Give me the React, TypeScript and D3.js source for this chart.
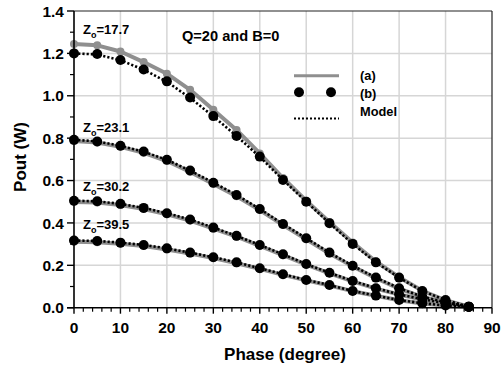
import React from "react";
import * as d3 from "d3";

const phase = [0, 5, 10, 15, 20, 25, 30, 35, 40, 45, 50, 55, 60, 65, 70, 75, 80, 85];

// (a) measured, gray line
const a17 = [1.244, 1.238, 1.209, 1.159, 1.104, 1.028, 0.934, 0.839, 0.728, 0.612, 0.505, 0.404, 0.308, 0.218, 0.144, 0.08, 0.035, 0.005];
const a23 = [0.786, 0.779, 0.759, 0.731, 0.692, 0.641, 0.584, 0.526, 0.461, 0.39, 0.323, 0.256, 0.195, 0.139, 0.09, 0.051, 0.024, 0.005];
const a30 = [0.499, 0.496, 0.485, 0.466, 0.441, 0.411, 0.373, 0.335, 0.292, 0.248, 0.203, 0.162, 0.124, 0.09, 0.062, 0.039, 0.02, 0.005];
const a39 = [0.311, 0.309, 0.302, 0.291, 0.275, 0.256, 0.234, 0.21, 0.183, 0.155, 0.129, 0.105, 0.078, 0.056, 0.035, 0.02, 0.01, 0.003];

// (b) measured, black dots
const b17 = [1.2, 1.197, 1.169, 1.124, 1.068, 0.992, 0.904, 0.81, 0.713, 0.603, 0.5, 0.399, 0.301, 0.214, 0.142, 0.079, 0.036, 0.005];
const b23 = [0.792, 0.784, 0.764, 0.737, 0.698, 0.647, 0.59, 0.532, 0.466, 0.395, 0.328, 0.26, 0.198, 0.142, 0.092, 0.052, 0.025, 0.005];
const b30 = [0.505, 0.502, 0.49, 0.471, 0.446, 0.416, 0.378, 0.339, 0.296, 0.252, 0.206, 0.165, 0.126, 0.092, 0.063, 0.04, 0.021, 0.005];
const b39 = [0.317, 0.315, 0.307, 0.296, 0.28, 0.26, 0.238, 0.214, 0.186, 0.158, 0.131, 0.107, 0.079, 0.057, 0.036, 0.021, 0.01, 0.003];

// Model, dotted line
const m17 = [1.2, 1.195, 1.168, 1.123, 1.066, 0.99, 0.903, 0.81, 0.712, 0.603, 0.5, 0.399, 0.301, 0.214, 0.142, 0.079, 0.036, 0.005];
const m23 = [0.792, 0.785, 0.764, 0.736, 0.698, 0.647, 0.59, 0.532, 0.466, 0.395, 0.328, 0.26, 0.198, 0.142, 0.092, 0.052, 0.025, 0.005];
const m30 = [0.505, 0.502, 0.49, 0.471, 0.446, 0.416, 0.378, 0.339, 0.296, 0.252, 0.206, 0.165, 0.126, 0.092, 0.063, 0.04, 0.021, 0.005];
const m39 = [0.317, 0.315, 0.307, 0.296, 0.28, 0.26, 0.238, 0.214, 0.186, 0.158, 0.131, 0.107, 0.079, 0.057, 0.036, 0.021, 0.01, 0.003];

const zLabels = ["17.7", "23.1", "30.2", "39.5"];
const zLabelValues = [1.29, 0.83, 0.55, 0.37];

const xTicks = [0, 10, 20, 30, 40, 50, 60, 70, 80, 90];
const yTicks = [0.0, 0.2, 0.4, 0.6, 0.8, 1.0, 1.2, 1.4];
const legendLabels = ["(a)", "(b)", "Model"];
const annotation = "Q=20 and B=0";
const xTitle = "Phase (degree)";
const yTitle = "Pout (W)";

const seriesA = [a17, a23, a30, a39];
const seriesB = [b17, b23, b30, b39];
const seriesM = [m17, m23, m30, m39];

const FONT = "'Liberation Sans', Arial, Helvetica, sans-serif";
const GRAY = "#8f8f8f";

export default function App() {
  const x = d3.scaleLinear().domain([0, 90]).range([74, 492]);
  const y = d3.scaleLinear().domain([0, 1.4]).range([307.7, 11]);

  const line = d3
    .line<[number, number]>()
    .x((d) => x(d[0]))
    .y((d) => y(d[1]));

  const pts = (vals: number[]) => phase.map((p, i) => [p, vals[i]] as [number, number]);

  const xMinor = d3.range(0, 91, 2).filter((v) => v % 10 !== 0);
  const yMinor = d3.range(0.1, 1.4, 0.2);

  return (
    <svg
      width={501}
      height={370}
      style={{ position: "absolute", left: 0, top: 0, background: "#fff" }}
      fontFamily={FONT}
    >
      <rect x={0} y={0} width={501} height={370} fill="#fff" />
      {/* grid */}
      {xTicks.slice(1, -1).map((t) => (
        <line key={"gx" + t} x1={x(t)} x2={x(t)} y1={y(0)} y2={y(1.4)} stroke="#d6d6d6" strokeWidth={1.5} />
      ))}
      {yTicks.slice(1, -1).map((t) => (
        <line key={"gy" + t} x1={x(0)} x2={x(90)} y1={y(t)} y2={y(t)} stroke="#d6d6d6" strokeWidth={1.5} />
      ))}
      {/* frame */}
      <line x1={x(0)} x2={x(90)} y1={y(1.4)} y2={y(1.4)} stroke="#222" strokeWidth={1.2} />
      <line x1={x(90)} x2={x(90)} y1={y(1.4)} y2={y(0)} stroke="#222" strokeWidth={1.2} />

      {/* series (a) gray */}
      {seriesA.map((s, k) => (
        <g key={"a" + k}>
          <path d={line(pts(s)) || ""} fill="none" stroke={GRAY} strokeWidth={4} strokeLinejoin="round" />
          {pts(s).map((d, i) => (
            <circle key={i} cx={x(d[0])} cy={y(d[1])} r={4} fill={GRAY} />
          ))}
        </g>
      ))}
      {/* model dotted */}
      {seriesM.map((s, k) => (
        <path
          key={"m" + k}
          d={line(pts(s)) || ""}
          fill="none"
          stroke="#000"
          strokeWidth={2.6}
          strokeDasharray="2.2,2"
        />
      ))}
      {/* series (b) dots */}
      {seriesB.map((s, k) => (
        <g key={"b" + k}>
          {pts(s).map((d, i) => (
            <circle key={i} cx={x(d[0])} cy={y(d[1])} r={5} fill="#000" />
          ))}
        </g>
      ))}

      {/* axes */}
      <line x1={x(0)} x2={x(0)} y1={y(0)} y2={y(1.4)} stroke="#000" strokeWidth={1.6} />
      <line x1={x(0) - 7} x2={x(90)} y1={y(0)} y2={y(0)} stroke="#000" strokeWidth={1.6} />
      {xTicks.map((t) => (
        <g key={"xt" + t}>
          <line x1={x(t)} x2={x(t)} y1={y(0)} y2={y(0) + 6} stroke="#000" strokeWidth={1.4} />
          <text x={x(t)} y={333.3} textAnchor="middle" fontSize={15.5} fontWeight="bold" fill="#000">
            {t}
          </text>
        </g>
      ))}
      {xMinor.map((t) => (
        <line key={"xm" + t} x1={x(t)} x2={x(t)} y1={y(0)} y2={y(0) + 4} stroke="#000" strokeWidth={1.2} />
      ))}
      {yTicks.map((t) => (
        <g key={"yt" + t}>
          <line x1={x(0) - 7} x2={x(0)} y1={y(t)} y2={y(t)} stroke="#000" strokeWidth={1.4} />
          <text x={64} y={y(t)} dy="0.36em" textAnchor="end" fontSize={15.5} fontWeight="bold" fill="#000">
            {t.toFixed(1)}
          </text>
        </g>
      ))}
      {yMinor.map((t) => (
        <line key={"ym" + t} x1={x(0) - 4} x2={x(0)} y1={y(t)} y2={y(t)} stroke="#000" strokeWidth={1.2} />
      ))}

      {/* axis titles */}
      <text x={285} y={360} textAnchor="middle" fontSize={17} fontWeight="bold" fill="#000">
        {xTitle}
      </text>
      <text
        transform={`translate(26,157) rotate(-90)`}
        textAnchor="middle"
        fontSize={17}
        fontWeight="bold"
        fill="#000"
      >
        {yTitle}
      </text>

      {/* annotation */}
      <text x={182} y={40.7} fontSize={14.6} fontWeight="bold" fill="#000">
        {annotation}
      </text>

      {/* Z labels */}
      {zLabels.map((z, k) => (
        <text key={"z" + k} x={83} y={y(zLabelValues[k]) + 0} fontSize={13} fontWeight="bold" fill="#000">
          Z
          <tspan fontSize={9} dy={4}>
            o
          </tspan>
          <tspan dy={-4}>={z}</tspan>
        </text>
      ))}

      {/* legend */}
      <line x1={294} x2={339} y1={75.7} y2={75.7} stroke={GRAY} strokeWidth={3} />
      <circle cx={299} cy={92.3} r={5} fill="#000" />
      <circle cx={331} cy={92.3} r={5} fill="#000" />
      <line x1={294} x2={339} y1={118.5} y2={118.5} stroke="#000" strokeWidth={2} strokeDasharray="2,2" />
      {legendLabels.map((l, i) => (
        <text key={l} x={360} y={79.5 + i * 18} fontSize={12.8} fontWeight="bold" fill="#000">
          {l}
        </text>
      ))}
    </svg>
  );
}
